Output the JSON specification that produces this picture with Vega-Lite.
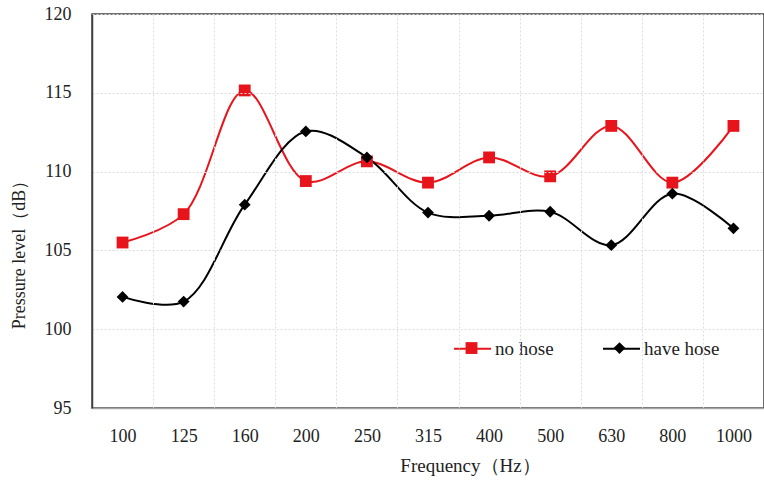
{
  "$schema": "https://vega.github.io/schema/vega-lite/v6.json",
  "width": 672,
  "height": 394,
  "autosize": {"type": "none"},
  "padding": {"left": 92, "top": 14, "right": 0, "bottom": 75},
  "background": "white",
  "config": {
    "view": {"stroke": "#404040", "strokeWidth": 1.5},
    "font": "Liberation Serif"
  },
  "data": {
    "values": [
      {"freq": "100", "series": "no hose", "value": 105.5},
      {"freq": "125", "series": "no hose", "value": 107.3},
      {"freq": "160", "series": "no hose", "value": 115.15},
      {"freq": "200", "series": "no hose", "value": 109.4},
      {"freq": "250", "series": "no hose", "value": 110.65},
      {"freq": "315", "series": "no hose", "value": 109.3},
      {"freq": "400", "series": "no hose", "value": 110.9},
      {"freq": "500", "series": "no hose", "value": 109.7},
      {"freq": "630", "series": "no hose", "value": 112.9},
      {"freq": "800", "series": "no hose", "value": 109.3},
      {"freq": "1000", "series": "no hose", "value": 112.9},
      {"freq": "100", "series": "have hose", "value": 102.05},
      {"freq": "125", "series": "have hose", "value": 101.75},
      {"freq": "160", "series": "have hose", "value": 107.9},
      {"freq": "200", "series": "have hose", "value": 112.55},
      {"freq": "250", "series": "have hose", "value": 110.9},
      {"freq": "315", "series": "have hose", "value": 107.4},
      {"freq": "400", "series": "have hose", "value": 107.2},
      {"freq": "500", "series": "have hose", "value": 107.45},
      {"freq": "630", "series": "have hose", "value": 105.33},
      {"freq": "800", "series": "have hose", "value": 108.6},
      {"freq": "1000", "series": "have hose", "value": 106.4}
    ]
  },
  "encoding": {
    "x": {
      "field": "freq",
      "type": "ordinal",
      "sort": ["100", "125", "160", "200", "250", "315", "400", "500", "630", "800", "1000"],
      "scale": {"type": "band", "paddingInner": 0, "paddingOuter": 0},
      "axis": {
        "title": "Frequency（Hz）",
        "titleFont": "Liberation Serif",
        "titleFontSize": 19,
        "titleFontWeight": "normal",
        "titleColor": "#222",
        "titlePadding": 11,
        "titleX": 378,
        "labelFont": "Liberation Serif",
        "labelFontSize": 18,
        "labelColor": "#222",
        "labelAngle": 0,
        "labelPadding": 19,
        "ticks": false,
        "tickBand": "extent",
        "grid": true,
        "gridColor": "#dcdcdc",
        "gridDash": [2, 2],
        "domainColor": "#a6a6a6",
        "domainWidth": 1.5,
        "zindex": 1
      }
    },
    "y": {
      "field": "value",
      "type": "quantitative",
      "scale": {"domain": [95, 120], "nice": false, "zero": false},
      "axis": {
        "title": "Pressure level（dB）",
        "titleFont": "Liberation Serif",
        "titleFontSize": 18,
        "titleFontWeight": "normal",
        "titleColor": "#222",
        "titlePadding": 16,
        "titleY": 236,
        "labelFont": "Liberation Serif",
        "labelFontSize": 18,
        "labelColor": "#222",
        "labelPadding": 21,
        "values": [95, 100, 105, 110, 115, 120],
        "ticks": false,
        "grid": true,
        "gridColor": "#dcdcdc",
        "gridDash": [2, 2],
        "domainColor": "#404040",
        "domainWidth": 1.5,
        "zindex": 1
      }
    }
  },
  "resolve": {"legend": {"color": "independent", "shape": "independent"}},
  "layer": [
    {
      "mark": {"type": "line", "interpolate": "catmull-rom", "strokeWidth": 2},
      "encoding": {
        "color": {
          "field": "series",
          "type": "nominal",
          "sort": ["no hose", "have hose"],
          "scale": {"domain": ["no hose", "have hose"], "range": ["#e8141b", "#000000"]},
          "legend": {
            "title": null,
            "orient": "none",
            "direction": "horizontal",
            "legendX": 361,
            "legendY": 315,
            "symbolType": "stroke",
            "symbolSize": 1369,
            "symbolStrokeWidth": 2,
            "labelFont": "Liberation Serif",
            "labelFontSize": 19,
            "labelColor": "#222",
            "labelOffset": 3,
            "columnPadding": 45
          }
        }
      }
    },
    {
      "mark": {"type": "point", "filled": true, "opacity": 1, "size": 140},
      "encoding": {
        "color": {
          "field": "series",
          "type": "nominal",
          "sort": ["no hose", "have hose"],
          "scale": {"domain": ["no hose", "have hose"], "range": ["#e8141b", "#000000"]},
          "legend": {
            "title": null,
            "orient": "none",
            "direction": "horizontal",
            "legendX": 373.5,
            "legendY": 328,
            "symbolSize": 140,
            "symbolStrokeWidth": 0,
            "labelExpr": "''",
            "labelOffset": 0,
            "columnPadding": 136
          }
        },
        "shape": {
          "field": "series",
          "type": "nominal",
          "sort": ["no hose", "have hose"],
          "scale": {"domain": ["no hose", "have hose"], "range": ["square", "diamond"]},
          "legend": {
            "title": null,
            "orient": "none",
            "direction": "horizontal",
            "legendX": 373.5,
            "legendY": 328,
            "symbolSize": 140,
            "symbolStrokeWidth": 0,
            "labelExpr": "''",
            "labelOffset": 0,
            "columnPadding": 136
          }
        }
      }
    }
  ]
}
